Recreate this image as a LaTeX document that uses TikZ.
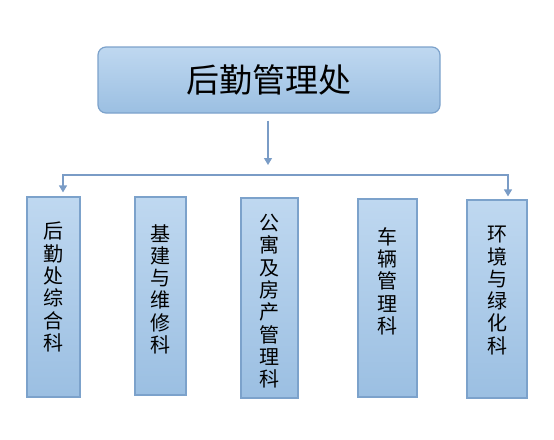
\documentclass[tikz,border=0pt]{standalone}
\usepackage{fontspec}
\newfontfamily\cjk{Noto Sans CJK SC}
\usetikzlibrary{positioning,arrows.meta}
\definecolor{boxtop}{HTML}{BFD8F0}
\definecolor{boxbot}{HTML}{9BBFE2}
\definecolor{boxline}{HTML}{7CA2CB}
\definecolor{linecol}{HTML}{7A9CC6}
\tikzset{
  boxfill/.style={draw=boxline, top color=boxtop, bottom color=boxbot, line width=1.2pt},
  head/.style={boxfill, rounded corners=8pt, minimum width=342pt, minimum height=66pt,
    font=\cjk\fontsize{33}{33}\selectfont},
  dept/.style={boxfill, inner sep=0pt},
  deptname/.style={font=\cjk\fontsize{20}{22.3}\selectfont, align=center, anchor=north, inner sep=0pt},
  link/.style={draw=linecol, line width=1.2pt, -{Triangle[width=8pt,length=7pt]}}
}
\begin{document}
\begin{tikzpicture}[x=1pt,y=-1pt]
  \useasboundingbox (0,0) rectangle (554,439);
  \node[head] (head) at (269,80) {后勤管理处};
  % the five sections
  \node[dept, minimum width=53pt, minimum height=200pt] (k1) at (53.5,297) {};
  \node[dept, minimum width=51pt, minimum height=198pt] (k2) at (160.5,296) {};
  \node[dept, minimum width=57pt, minimum height=200pt] (k3) at (269.5,298) {};
  \node[dept, minimum width=59pt, minimum height=198pt] (k4) at (387.5,298) {};
  \node[dept, minimum width=60pt, minimum height=198pt] (k5) at (497,299) {};
  \node[deptname] (t1) at (53.5,222) {后\\勤\\处\\综\\合\\科};
  \node[deptname] (t2) at (160.5,224) {基\\建\\与\\维\\修\\科};
  \node[deptname] (t3) at (269.5,214) {公\\寓\\及\\房\\产\\管\\理\\科};
  \node[deptname] (t4) at (387.5,227) {车\\辆\\管\\理\\科};
  \node[deptname] (t5) at (497,226) {环\\境\\与\\绿\\化\\科};
  % connectors
  \coordinate (split) at (268,175);
  \draw[link, shorten <=7pt, shorten >=10pt] (head.south -| split) -- (split);
  \draw[link, shorten >=4pt] (split) -| ([xshift=9.5pt]k1.north);
  \draw[link, shorten >=3pt] (split) -| ([xshift=11pt]k5.north);
\end{tikzpicture}
\end{document}
